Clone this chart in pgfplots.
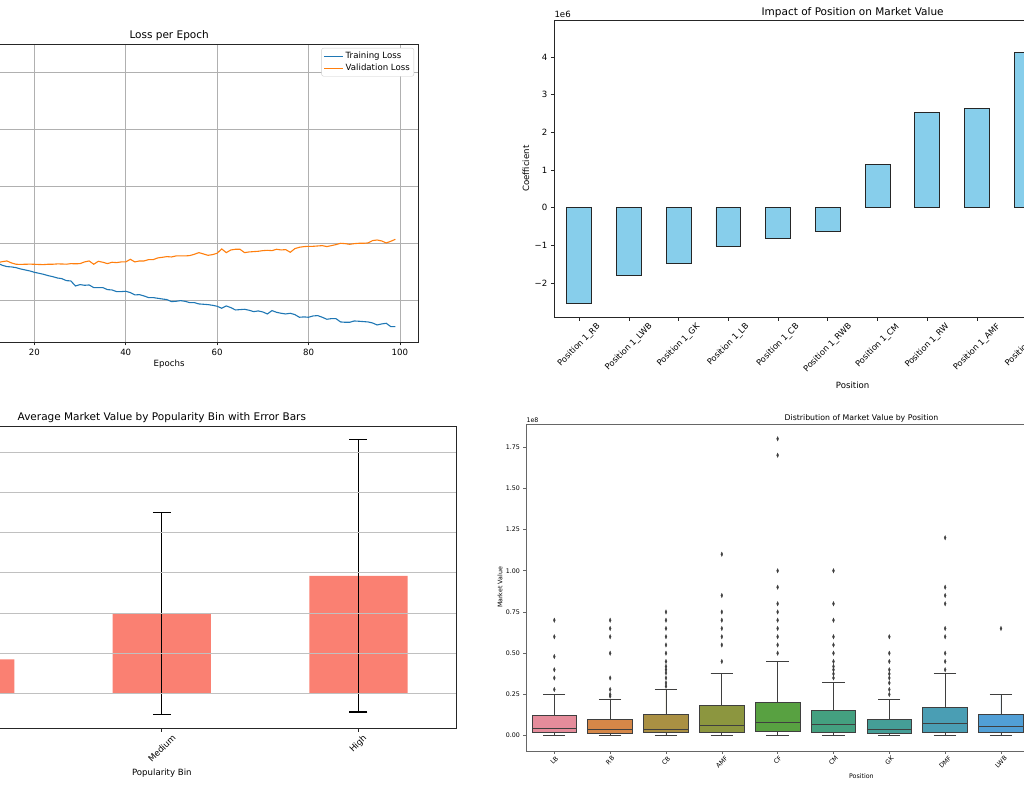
\documentclass[border=0pt]{standalone}
\usepackage{fontspec}
\setmainfont{DejaVu Sans}
\usepackage{graphicx}
\usepackage{pgfplots}
\pgfplotsset{compat=1.18}
\usepgfplotslibrary{statistics}
\definecolor{mplblue}{HTML}{1F77B4}
\definecolor{mplorange}{HTML}{FF7F0E}
\definecolor{gridgray}{HTML}{B0B0B0}
\definecolor{skyblue}{HTML}{87CEEB}
\definecolor{salmon}{HTML}{FA8072}
\definecolor{bpgray}{HTML}{3F3F3F}
\definecolor{cLB}{HTML}{E58C9B}
\definecolor{cRB}{HTML}{D58748}
\definecolor{cCB}{HTML}{AA9043}
\definecolor{cAMF}{HTML}{8C963F}
\definecolor{cCF}{HTML}{58A141}
\definecolor{cCM}{HTML}{44A080}
\definecolor{cGK}{HTML}{459E97}
\definecolor{cDMF}{HTML}{4A9EB4}
\definecolor{cLWB}{HTML}{519FD6}
\definecolor{cRWB}{HTML}{9D8ADE}
\definecolor{cRW}{HTML}{D969D1}
\definecolor{cLW}{HTML}{DC72B0}
\newcommand{\fntA}{\fontsize{10.5}{12}\selectfont}
\newcommand{\fntB}{\fontsize{8.6}{10}\selectfont}
\newcommand{\fntC}{\fontsize{8.3}{9.5}\selectfont}
\newcommand{\fntD}{\fontsize{6.3}{7.5}\selectfont}
\newcommand{\fntE}{\fontsize{7.8}{9}\selectfont}
\newcommand{\rotlab}[1]{\rotatebox{45}{#1}}
\pgfplotsset{
  common/.style={scale only axis, anchor=south west, tick align=outside, tick pos=left,
    major tick length=3.5pt,
    axis line style={black!85, line width=0.7pt},
    tick style={black!85, line width=0.7pt},
    /pgf/number format/assume math mode=true,
    tick label style={font=\fntB},
    label style={font=\fntB},
    title style={font=\fntA, at={(0.5,1)}, anchor=base},
  },
}
\pgfplotstableread{
e v
10 1.650
11 1.655
12 1.661
13 1.678
14 1.690
15 1.655
16 1.632
17 1.630
18 1.632
19 1.634
20 1.632
21 1.628
22 1.626
23 1.632
24 1.632
25 1.638
26 1.637
27 1.633
28 1.643
29 1.640
30 1.643
31 1.673
32 1.690
33 1.632
34 1.684
35 1.667
36 1.643
37 1.667
38 1.661
39 1.673
40 1.673
41 1.719
42 1.673
43 1.690
44 1.690
45 1.713
46 1.713
47 1.743
48 1.754
49 1.766
50 1.760
51 1.778
52 1.778
53 1.778
54 1.784
55 1.807
56 1.836
57 1.813
58 1.789
59 1.801
60 1.825
61 1.901
62 1.836
63 1.883
64 1.895
65 1.895
66 1.836
67 1.848
68 1.854
69 1.860
70 1.871
71 1.877
72 1.871
73 1.895
74 1.883
75 1.889
76 1.842
77 1.906
78 1.930
79 1.942
80 1.947
81 1.947
82 1.953
83 1.959
84 1.942
85 1.959
86 1.977
87 2.000
88 1.994
89 1.982
90 1.994
91 2.000
92 2.000
93 2.006
94 2.047
95 2.058
96 2.041
97 2.006
98 2.035
99 2.070
}\valloss
\pgfplotstableread{
e t
10 1.700
11 1.675
12 1.649
13 1.614
14 1.591
15 1.585
16 1.573
17 1.550
18 1.532
19 1.515
20 1.491
21 1.474
22 1.456
23 1.433
24 1.415
25 1.392
26 1.380
27 1.345
28 1.339
29 1.251
30 1.275
31 1.263
32 1.269
33 1.222
34 1.222
35 1.222
36 1.187
37 1.181
38 1.152
39 1.152
40 1.158
41 1.135
42 1.094
43 1.099
44 1.076
45 1.047
46 1.047
47 1.035
48 1.023
49 1.012
50 0.977
51 0.982
52 0.994
53 0.982
54 0.959
55 0.959
56 0.936
57 0.930
58 0.924
59 0.912
60 0.895
61 0.860
62 0.901
63 0.871
64 0.830
65 0.836
66 0.842
67 0.825
68 0.801
69 0.813
70 0.795
71 0.760
72 0.819
73 0.789
74 0.772
75 0.760
76 0.772
77 0.749
78 0.702
79 0.708
80 0.702
81 0.725
82 0.731
83 0.702
84 0.667
85 0.678
86 0.678
87 0.620
88 0.614
89 0.614
90 0.637
91 0.632
92 0.626
93 0.620
94 0.602
95 0.567
96 0.585
97 0.596
98 0.538
99 0.538
}\trainloss
\pgfplotstableread{
x y e
0 4.23 5.5
1 9.96 12.57
2 14.6 16.95
}\popbins
\begin{document}
\scalebox{0.6}{%
\begin{tikzpicture}[x=1pt,y=1pt]
\useasboundingbox (0,0) rectangle (1024,786);
\clip (0,0) rectangle (1024,786);
% ---------------- Panel 1: Loss per Epoch
\begin{axis}[common, at={(-79.7pt,444pt)}, width=497.7pt, height=298pt,
  xmin=-4.95, xmax=103.95, ymin=0.268, ymax=5.497,
  xtick={0,20,...,100}, xticklabels={,20,40,60,80,100},
  ytick={1,2,3,4,5}, yticklabels={},
  grid=major, grid style={gridgray, line width=0.6pt},
  title={Loss per Epoch}, title style={yshift=-0.7pt},
  xlabel={Epochs}, xlabel style={at={(axis description cs:0.5,-0.0738)}, anchor=center},
  legend style={at={(1,1)}, anchor=north east, xshift=-4pt, yshift=-4pt, draw=black!20,
    rounded corners=2pt, font=\fntB, inner sep=2pt, row sep=0pt},
  legend cell align=left,
  legend image code/.code={\draw[#1] (0pt,0pt) -- (19pt,0pt);},
]
\addplot[mplblue, line width=1.1pt] table[x=e, y=t] {\trainloss};
\addlegendentry{Training Loss}
\addplot[mplorange, line width=1.1pt] table[x=e, y=v] {\valloss};
\addlegendentry{Validation Loss}
\end{axis}
% ---------------- Panel 2: Impact of Position on Market Value
\begin{axis}[common, at={(554.3pt,468.7pt)}, width=596.7pt, height=297.3pt,
  xmin=-0.5, xmax=11.5, ymin=-2.915, ymax=4.99, clip=false,
  xtick={0,...,9},
  xticklabels={\rotlab{Position 1\_RB},\rotlab{Position 1\_LWB},\rotlab{Position 1\_GK},\rotlab{Position 1\_LB},\rotlab{Position 1\_CB},\rotlab{Position 1\_RWB},\rotlab{Position 1\_CM},\rotlab{Position 1\_RW},\rotlab{Position 1\_AMF},\rotlab{Position 1\_LW}},
  xticklabel style={anchor=north, inner sep=1.5pt, font=\fntC},
  ytick={-2,-1,0,1,2,3,4}, yticklabels={−2,−1,0,1,2,3,4},
  title={Impact of Position on Market Value}, title style={yshift=-1pt},
  xlabel={Position}, xlabel style={at={(axis description cs:0.5,-0.230)}, anchor=center},
  ylabel={Coefficient}, ylabel style={at={(axis description cs:-0.0474,0.5)}, anchor=center},
]
\addplot[ybar, bar width=0.5, fill=skyblue, draw=black!85, line width=0.8pt]
  coordinates {(0,-2.54) (1,-1.81) (2,-1.47) (3,-1.03) (4,-0.83) (5,-0.63)
               (6,1.14) (7,2.52) (8,2.64) (9,4.12) (10,4.40) (11,4.63)};
\node[anchor=south west, inner sep=0pt, font=\fntB] at (rel axis cs:0,1) [yshift=2pt] {1e6};
\end{axis}
% ---------------- Panel 3: Average Market Value by Popularity Bin
\begin{axis}[common, at={(-133pt,57.7pt)}, width=589.7pt, height=301.6pt,
  xmin=-0.5, xmax=2.5, ymin=-4.36, ymax=33.18,
  xtick={0,1,2}, xticklabels={,\rotlab{Medium},\rotlab{High}},
  xticklabel style={anchor=north, inner sep=2pt},
  ytick={0,5,...,30}, yticklabels={},
  ymajorgrids, grid style={gridgray!80, line width=0.6pt},
  axis on top,
  title={Average Market Value by Popularity Bin with Error Bars}, title style={yshift=0pt},
  xlabel={Popularity Bin}, xlabel style={at={(axis description cs:0.5,-0.148)}, anchor=center},
]
\addplot[ybar, bar width=0.5, fill=salmon, draw=none,
  error bars/.cd, y dir=both, y explicit,
  error bar style={black, line width=1.3pt},
  error mark options={rotate=90, black, line width=1.3pt, mark size=9pt}]
  table[x=x, y=y, y error=e] {\popbins};
\end{axis}
% ---------------- Panel 4: Distribution of Market Value by Position
\begin{axis}[common, at={(526.4pt,35pt)}, width=670pt, height=327pt,
  xmin=-0.5, xmax=11.5, ymin=-0.0928, ymax=1.8896, clip=false,
  axis line style={black!60, line width=0.6pt},
  tick style={black!60, line width=0.6pt}, major tick length=3pt,
  tick label style={font=\fntD}, label style={font=\fntD},
  title style={font=\fntE, yshift=-2.5pt},
  xtick={0,...,8},
  xticklabels={\rotlab{LB},\rotlab{RB},\rotlab{CB},\rotlab{AMF},\rotlab{CF},\rotlab{CM},\rotlab{GK},\rotlab{DMF},\rotlab{LWB}},
  xticklabel style={anchor=north, inner sep=1.5pt},
  ytick={0,0.25,...,1.75}, yticklabels={0.00,0.25,0.50,0.75,1.00,1.25,1.50,1.75},
  title={Distribution of Market Value by Position},
  xlabel={Position}, xlabel style={at={(axis description cs:0.5,-0.0765)}, anchor=center},
  ylabel={Market Value}, ylabel style={at={(axis description cs:-0.0394,0.5)}, anchor=center},
  boxplot/draw direction=y,
  boxplot/box extend=0.8, boxplot/whisker extend=0.4,
  every axis plot/.append style={draw=bpgray, line width=0.9pt, mark=diamond*, mark size=2.2pt,
    mark options={fill=bpgray, draw=bpgray, xscale=0.6, line width=0.3pt}},
]
\addplot[fill=cLB, boxplot prepared={draw position=0, lower whisker=0, lower quartile=0.020, median=0.044, upper quartile=0.121, upper whisker=0.25}]
  table[row sep=\\, y index=0] {y\\ 0.28\\ 0.35\\ 0.40\\ 0.48\\ 0.60\\ 0.70\\};
\addplot[fill=cRB, boxplot prepared={draw position=1, lower whisker=0, lower quartile=0.016, median=0.038, upper quartile=0.100, upper whisker=0.22}]
  table[row sep=\\, y index=0] {y\\ 0.24\\ 0.25\\ 0.28\\ 0.35\\ 0.50\\ 0.60\\ 0.65\\ 0.70\\};
\addplot[fill=cCB, boxplot prepared={draw position=2, lower whisker=0, lower quartile=0.020, median=0.038, upper quartile=0.130, upper whisker=0.28}]
  table[row sep=\\, y index=0] {y\\ 0.30\\ 0.32\\ 0.35\\ 0.38\\ 0.40\\ 0.42\\ 0.45\\ 0.50\\ 0.55\\ 0.60\\ 0.65\\ 0.70\\ 0.75\\};
\addplot[fill=cAMF, boxplot prepared={draw position=3, lower whisker=0, lower quartile=0.020, median=0.063, upper quartile=0.184, upper whisker=0.38}]
  table[row sep=\\, y index=0] {y\\ 0.45\\ 0.55\\ 0.60\\ 0.65\\ 0.70\\ 0.75\\ 0.85\\ 1.10\\};
\addplot[fill=cCF, boxplot prepared={draw position=4, lower whisker=0, lower quartile=0.026, median=0.081, upper quartile=0.200, upper whisker=0.45}]
  table[row sep=\\, y index=0] {y\\ 0.50\\ 0.55\\ 0.60\\ 0.65\\ 0.70\\ 0.75\\ 0.80\\ 0.90\\ 1.00\\ 1.70\\ 1.80\\};
\addplot[fill=cCM, boxplot prepared={draw position=5, lower whisker=0, lower quartile=0.020, median=0.067, upper quartile=0.150, upper whisker=0.32}]
  table[row sep=\\, y index=0] {y\\ 0.35\\ 0.375\\ 0.40\\ 0.42\\ 0.45\\ 0.50\\ 0.55\\ 0.60\\ 0.70\\ 0.80\\ 1.00\\};
\addplot[fill=cGK, boxplot prepared={draw position=6, lower whisker=0.004, lower quartile=0.016, median=0.038, upper quartile=0.100, upper whisker=0.22}]
  table[row sep=\\, y index=0] {y\\ 0.25\\ 0.28\\ 0.32\\ 0.35\\ 0.375\\ 0.40\\ 0.45\\ 0.50\\ 0.60\\};
\addplot[fill=cDMF, boxplot prepared={draw position=7, lower whisker=0.004, lower quartile=0.020, median=0.073, upper quartile=0.174, upper whisker=0.38}]
  table[row sep=\\, y index=0] {y\\ 0.40\\ 0.45\\ 0.50\\ 0.60\\ 0.65\\ 0.80\\ 0.85\\ 0.90\\ 1.20\\};
\addplot[fill=cLWB, boxplot prepared={draw position=8, lower whisker=0, lower quartile=0.020, median=0.053, upper quartile=0.127, upper whisker=0.25}]
  table[row sep=\\, y index=0] {y\\ 0.65\\};
\addplot[fill=cRWB, boxplot prepared={draw position=9, lower whisker=0, lower quartile=0.020, median=0.050, upper quartile=0.120, upper whisker=0.25}]
  table[row sep=\\, y index=0] {y\\ 0.30\\ 0.40\\};
\addplot[fill=cRW, boxplot prepared={draw position=10, lower whisker=0, lower quartile=0.025, median=0.070, upper quartile=0.200, upper whisker=0.45}]
  table[row sep=\\, y index=0] {y\\ 0.55\\ 0.70\\ 0.90\\};
\addplot[fill=cLW, boxplot prepared={draw position=11, lower whisker=0, lower quartile=0.020, median=0.060, upper quartile=0.160, upper whisker=0.35}]
  table[row sep=\\, y index=0] {y\\ 0.45\\ 0.60\\};
\node[anchor=south west, inner sep=0pt, font=\fntD] at (rel axis cs:0,1) [yshift=1.5pt] {1e8};
\end{axis}
\end{tikzpicture}%
}
\end{document}
